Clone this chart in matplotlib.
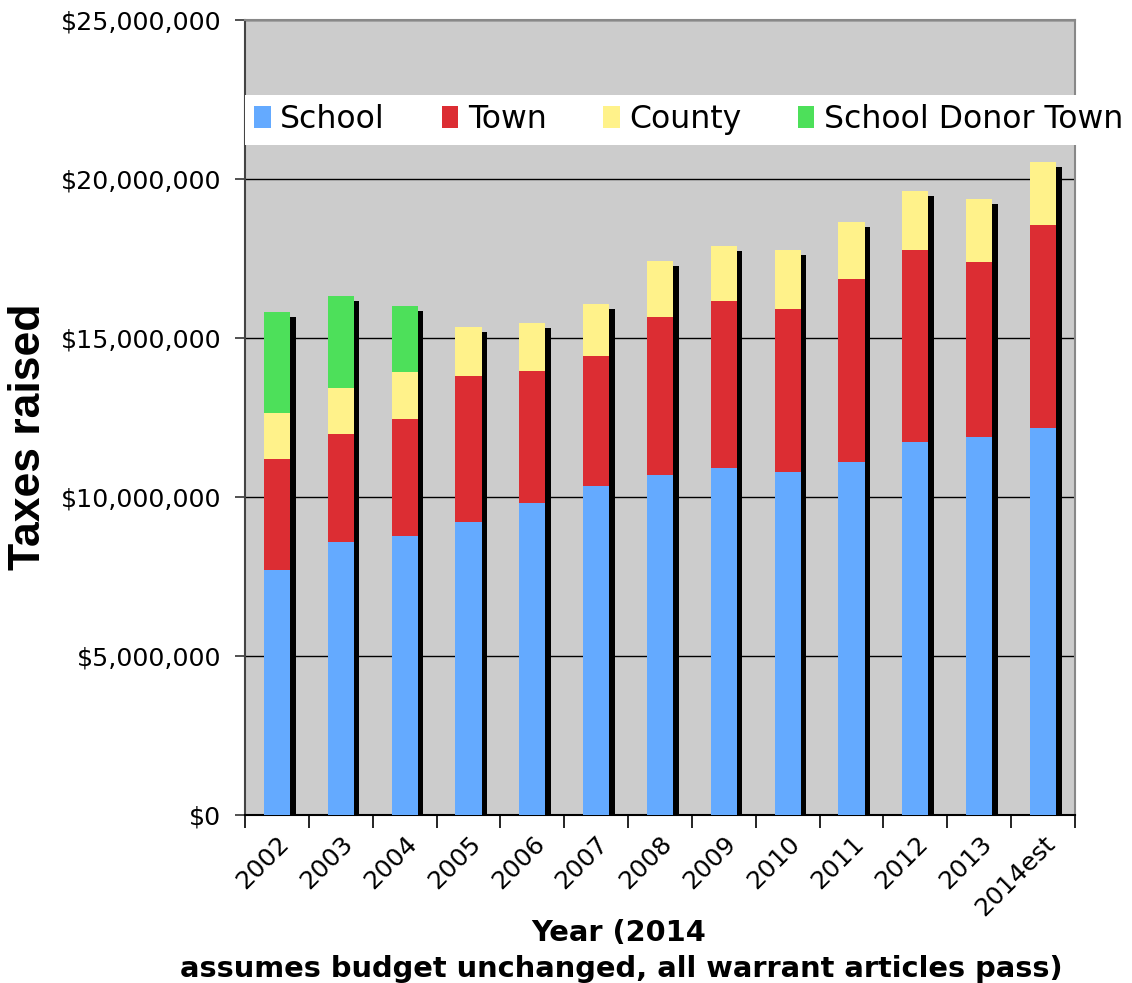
import matplotlib
matplotlib.use("Agg")
import matplotlib.pyplot as plt
import numpy as np
from matplotlib.patches import Patch
from matplotlib.ticker import FuncFormatter, MultipleLocator

# Property taxes raised by year, in dollars
years = ["2002", "2003", "2004", "2005", "2006", "2007", "2008",
         "2009", "2010", "2011", "2012", "2013", "2014est"]
school = [7.70e6, 8.58e6, 8.77e6, 9.21e6, 9.81e6, 10.35e6, 10.69e6,
          10.91e6, 10.79e6, 11.10e6, 11.73e6, 11.89e6, 12.17e6]
town = [3.49e6, 3.40e6, 3.68e6, 4.59e6, 4.15e6, 4.08e6, 4.97e6,
        5.25e6, 5.12e6, 5.74e6, 6.04e6, 5.50e6, 6.38e6]
county = [1.45e6, 1.45e6, 1.48e6, 1.55e6, 1.51e6, 1.64e6, 1.76e6,
          1.73e6, 1.86e6, 1.82e6, 1.85e6, 1.98e6, 1.98e6]
donor = [3.18e6, 2.89e6, 2.08e6, 0, 0, 0, 0, 0, 0, 0, 0, 0, 0]

series_names = ["School", "Town", "County", "School Donor Town"]
series_colors = ["#64AAFF", "#DC2D33", "#FFF28A", "#4DE05A"]

W, H = 1132, 983
fig = plt.figure(figsize=(W / 100, H / 100), dpi=100)
ax = fig.add_axes([245 / W, 1 - 815 / H, 830 / W, 795 / H])
ax.set_facecolor("#CCCCCC")

x = np.arange(len(years))
bar_w = 0.41
dx = 5.5 / 63.85        # drop-shadow offset, in category units
dy = 5 / 31.8 * 1e6     # drop-shadow offset, in dollars

values = [school, town, county, donor]
totals = np.sum(np.array(values), axis=0)

# drop shadows behind the stacks
ax.bar(x + dx, totals, bottom=-dy, width=bar_w, color="black",
       zorder=2, linewidth=0)

bottom = np.zeros(len(years))
for vals, color in zip(values, series_colors):
    vals = np.array(vals)
    ax.bar(x, vals, bottom=bottom, width=bar_w, color=color,
           zorder=3, linewidth=0)
    bottom += vals

ax.set_xlim(-0.5, len(years) - 0.5)
ax.set_ylim(0, 25e6)

ax.yaxis.set_major_locator(MultipleLocator(5e6))
ax.yaxis.set_major_formatter(FuncFormatter(lambda v, p: "${:,.0f}".format(v)))
ax.grid(axis="y", color="black", linewidth=1.0, zorder=1)
ax.set_axisbelow(True)

ax.set_xticks(x)
ax.set_xticklabels(years, rotation=45, ha="right", rotation_mode="anchor",
                   fontsize=18)
ax.set_xticks(np.arange(-0.5, len(years)), minor=True)
ax.tick_params(axis="x", which="major", length=0, pad=12)
ax.tick_params(axis="x", which="minor", length=9, width=1.2, color="black",
               direction="out")
ax.tick_params(axis="y", labelsize=18.2, length=7, width=1.2, color="#333333",
               pad=10)

for side, col in [("left", "#444444"), ("top", "#888888"),
                  ("right", "#888888"), ("bottom", "black")]:
    ax.spines[side].set_color(col)
    ax.spines[side].set_linewidth(1.5)

fig.text(29 / W, 1 - 437 / H, "Taxes raised", rotation=90,
         fontsize=32, fontweight="bold", family="Liberation Sans",
         ha="center", va="center")

fig.text(619 / W, 1 - 941 / H, "Year (2014", fontsize=20.8,
         fontweight="bold", ha="center", va="baseline")
fig.text(621 / W, 1 - 977 / H,
         "assumes budget unchanged, all warrant articles pass)",
         fontsize=20.8, fontweight="bold", ha="center", va="baseline")

handles = [Patch(facecolor=c, edgecolor="none") for c in series_colors]
leg = fig.legend(handles, series_names, loc="upper left",
                 bbox_to_anchor=(245 / W, 1 - 95 / H), ncol=4,
                 fontsize=22.7, frameon=True, fancybox=False,
                 handlelength=0.52, handleheight=0.69, handletextpad=0.3,
                 columnspacing=1.8, borderpad=0.3, borderaxespad=0)
leg.get_frame().set_facecolor("white")
leg.get_frame().set_edgecolor("none")
leg.get_frame().set_alpha(1.0)

fig.savefig("out.png", dpi=100, facecolor="white")
